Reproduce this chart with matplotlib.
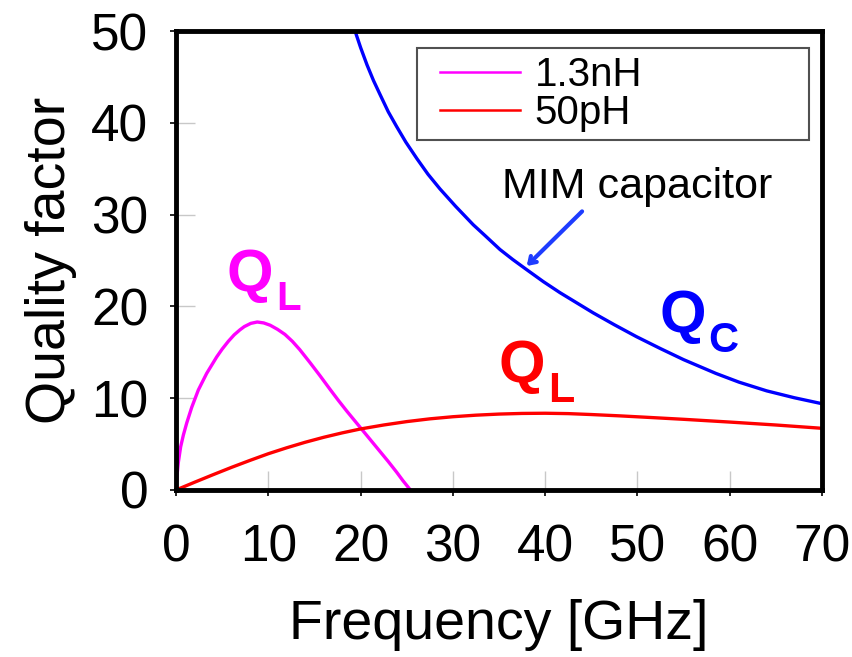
import matplotlib
matplotlib.use("Agg")
import numpy as np
import matplotlib.pyplot as plt
from matplotlib.ticker import FixedLocator

plt.rcParams['font.family'] = ['Liberation Sans', 'DejaVu Sans']

# values
f_13nH = [0, 0.1, 0.25, 0.5, 0.8, 1.16, 1.7, 2.42, 3.32, 4.41, 5.0, 5.67, 6.3, 6.93, 7.4,
          8.1, 8.8, 9.5, 10.2, 11.0, 11.8, 12.6, 13.4, 14.5, 15.6, 16.7, 17.6, 18.5,
          19.4, 20.3, 21.2, 22.1, 23.0, 23.9, 24.6, 25.4]
q_13nH = [0, 1.5, 3.0, 4.7, 6.0, 7.3, 9.0, 10.9, 12.7, 14.5, 15.35, 16.2, 16.9, 17.45, 17.8,
          18.15, 18.3, 18.2, 17.95, 17.5, 16.95, 16.2, 15.3, 13.9, 12.45, 10.95, 9.75, 8.6,
          7.5, 6.4, 5.3, 4.2, 3.1, 1.95, 1.0, 0]

f_50pH = [0, 2, 4, 6, 8, 10, 12, 14, 16, 18, 20, 22.5, 25, 27.5, 30, 32.5, 35, 37.5,
          40, 42.5, 45, 48, 51, 55, 60, 65, 70]
q_50pH = [0, 0.84, 1.66, 2.46, 3.22, 3.95, 4.6, 5.2, 5.74, 6.22, 6.65, 7.08, 7.45, 7.75,
          7.98, 8.15, 8.27, 8.34, 8.36, 8.32, 8.22, 8.08, 7.92, 7.7, 7.4, 7.08, 6.72]

f_mim = [19.4, 20.0, 20.7, 21.4, 22.1, 23.0, 23.9, 24.9, 26.1, 27.3, 28.6, 30.3, 32.2,
         33.5, 35.1, 36.5, 38.0, 39.8, 41.6, 43.4, 45.2, 47.5, 49.9, 52.5, 55, 58.5,
         61, 64, 67, 70]
q_mim = [50, 48.2, 46.3, 44.6, 43.1, 41.2, 39.6, 37.9, 36.1, 34.4, 32.8, 30.9, 28.9,
         27.7, 26.2, 25.1, 24.0, 22.7, 21.5, 20.4, 19.3, 18.0, 16.7, 15.4, 14.2, 12.7,
         11.75, 10.8, 10.05, 9.4]

x_ticks = [0, 10, 20, 30, 40, 50, 60, 70]
y_ticks = [0, 10, 20, 30, 40, 50]
legend_labels = ["1.3nH", "50pH"]

MAGENTA = "#ff00ff"
RED = "#ff0000"
BLUE = "#0000ff"

fig = plt.figure(figsize=(8.52, 6.57), dpi=100)
ax = fig.add_axes([0.2066, 0.2542, 0.7582, 0.6986])

l1, = ax.plot(f_13nH, q_13nH, color=MAGENTA, lw=2.4, solid_joinstyle='round')
l2, = ax.plot(f_50pH, q_50pH, color=RED, lw=2.4, solid_joinstyle='round')
ax.plot(f_mim, q_mim, color=BLUE, lw=2.4, solid_joinstyle='round')

ax.set_xlim(0, 70)
ax.set_ylim(0, 50)

for sp in ax.spines.values():
    sp.set_linewidth(3.5)

# long light-gray ticks inside, short black ones outside
ax.xaxis.set_major_locator(FixedLocator(x_ticks))
ax.yaxis.set_major_locator(FixedLocator(y_ticks))
ax.xaxis.set_minor_locator(FixedLocator(x_ticks))
ax.yaxis.set_minor_locator(FixedLocator(y_ticks))
ax.xaxis.remove_overlapping_locs = False
ax.yaxis.remove_overlapping_locs = False
ax.tick_params(which='major', direction='in', length=14, width=1, color='#c8c8c8',
               labelsize=37)
ax.tick_params(axis='x', which='major', pad=24)
ax.tick_params(axis='y', which='major', pad=20)
ax.tick_params(which='minor', direction='out', length=4, width=1.2, color='black')

ax.set_xlabel("Frequency [GHz]", fontsize=40, labelpad=19)
ax.set_ylabel("Quality factor", fontsize=40, labelpad=10)

leg = ax.legend([l1, l2], legend_labels, loc='lower left',
                bbox_to_anchor=(0.373, 0.763, 0.607, 0.207), mode='expand',
                fontsize=29, handlelength=2.35, handletextpad=0.37,
                labelspacing=0.0, borderpad=0.2, borderaxespad=0,
                fancybox=False, framealpha=1)
leg.get_frame().set_edgecolor('#505050')
leg.get_frame().set_linewidth(1.5)
# keep a blank gap at the left of each legend line
for ln in leg.get_lines():
    xd = np.asarray(ln.get_xdata(), dtype=float)
    span = xd[-1] - xd[0]
    ln.set_xdata(xd[0] + 0.16 * span + (xd - xd[0]) * 0.84)
    ln.set_linewidth(1.8)

ax.text(51.5, 43.3, "inductor", fontsize=29, va='center', ha='left')

ax.text(35.3, 31.8, "MIM capacitor", fontsize=31, va='baseline', ha='left')
ax.annotate("", xy=(38.0, 24.4), xytext=(44.0, 30.35),
            arrowprops=dict(arrowstyle='->,head_length=0.45,head_width=0.3',
                            color='#1e3cff', lw=3, shrinkA=0, shrinkB=0))

# Q labels with subscripts
ax.text(5.5, 21.7, "Q", color=MAGENTA, fontsize=43, fontweight='bold', va='baseline')
ax.text(10.9, 19.6, "L", color=MAGENTA, fontsize=29, fontweight='bold', va='baseline')
ax.text(34.9, 11.8, "Q", color=RED, fontsize=43, fontweight='bold', va='baseline')
ax.text(40.3, 9.6, "L", color=RED, fontsize=31, fontweight='bold', va='baseline')
ax.text(52.4, 17.2, "Q", color=BLUE, fontsize=43, fontweight='bold', va='baseline')
ax.text(57.7, 15.0, "C", color=BLUE, fontsize=30, fontweight='bold', va='baseline')

fig.savefig("out.png", dpi=100)
